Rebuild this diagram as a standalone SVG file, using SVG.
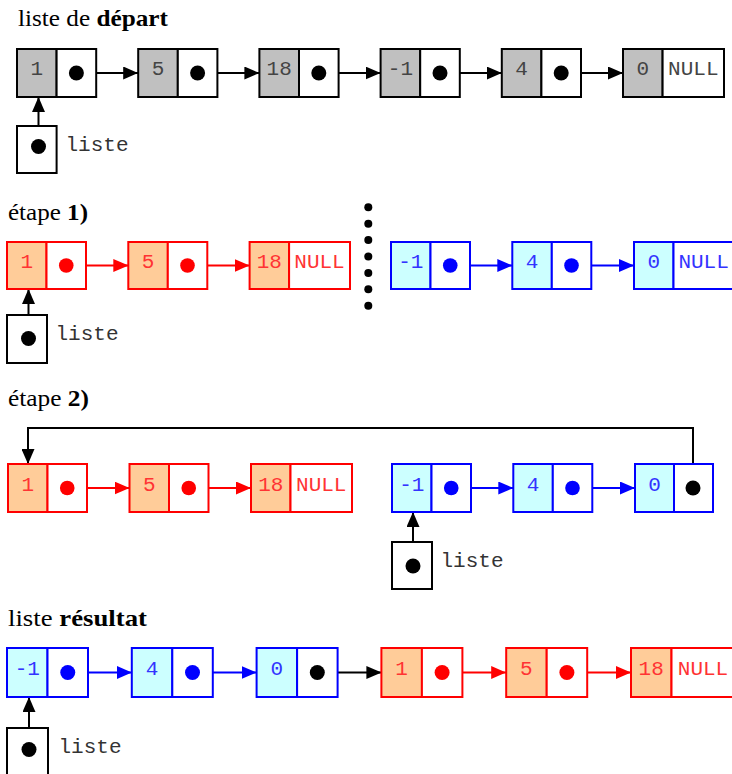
<svg xmlns="http://www.w3.org/2000/svg" width="732" height="774" viewBox="0 0 732 774">
<style>
.title{font-family:"Liberation Serif","Times New Roman",serif;font-size:23px;fill:#000}
.b{font-weight:bold}
.v{font-family:"Liberation Mono","Courier New",monospace;font-size:21px;text-anchor:middle}
.lbl{font-family:"Liberation Mono","Courier New",monospace;font-size:21px;fill:#333}
.gc{fill:#c0c0c0;stroke:#000;stroke-width:2}
.wk{fill:#fff;stroke:#000;stroke-width:2}
.rc{fill:#ffcc99;stroke:#f00;stroke-width:2}
.wr{fill:#fff;stroke:#f00;stroke-width:2}
.bc{fill:#ccffff;stroke:#00f;stroke-width:2}
.wb{fill:#fff;stroke:#00f;stroke-width:2}
.tg{fill:#444}
.tr{fill:#f33}
.tb{fill:#33f}
.dk{fill:#000}
.dr{fill:#f00}
.db{fill:#00f}
.lk{stroke:#000;stroke-width:2;fill:none;marker-end:url(#ak)}
.lr{stroke:#f00;stroke-width:2;fill:none;marker-end:url(#ar)}
.lb{stroke:#00f;stroke-width:2;fill:none;marker-end:url(#ab)}
</style>
<defs>
<marker id="ak" viewBox="0 0 15 13" refX="15" refY="6.5" markerWidth="15" markerHeight="13" markerUnits="userSpaceOnUse" orient="auto"><path d="M0,0 L15,6.5 L0,13 z" fill="#000"/></marker>
<marker id="ar" viewBox="0 0 15 13" refX="15" refY="6.5" markerWidth="15" markerHeight="13" markerUnits="userSpaceOnUse" orient="auto"><path d="M0,0 L15,6.5 L0,13 z" fill="#f00"/></marker>
<marker id="ab" viewBox="0 0 15 13" refX="15" refY="6.5" markerWidth="15" markerHeight="13" markerUnits="userSpaceOnUse" orient="auto"><path d="M0,0 L15,6.5 L0,13 z" fill="#00f"/></marker>
</defs>
<rect width="732" height="774" fill="#fff"/>

<g id="titles">
<text class="title" x="18" y="26" textLength="150" lengthAdjust="spacingAndGlyphs">liste de <tspan class="b">départ</tspan></text>
<text class="title" x="8" y="220" textLength="80" lengthAdjust="spacingAndGlyphs">étape <tspan class="b">1)</tspan></text>
<text class="title" x="8" y="406" textLength="81" lengthAdjust="spacingAndGlyphs">étape <tspan class="b">2)</tspan></text>
<text class="title" x="8" y="626" textLength="139" lengthAdjust="spacingAndGlyphs">liste <tspan class="b">résultat</tspan></text>
</g>

<g id="connectors">
<line class="lk" x1="76.4" y1="73" x2="138.2" y2="73"/>
<line class="lk" x1="197.6" y1="73" x2="259.4" y2="73"/>
<line class="lk" x1="318.8" y1="73" x2="380.6" y2="73"/>
<line class="lk" x1="440" y1="73" x2="501.8" y2="73"/>
<line class="lk" x1="561.2" y1="73" x2="623" y2="73"/>
<line class="lk" x1="38.5" y1="146.5" x2="38.5" y2="97"/>
<line class="lr" x1="66.25" y1="265.5" x2="128.3" y2="265.5"/>
<line class="lr" x1="187.5" y1="265.5" x2="249.6" y2="265.5"/>
<line class="lb" x1="450.25" y1="265.5" x2="512.3" y2="265.5"/>
<line class="lb" x1="571.5" y1="265.5" x2="634" y2="265.5"/>
<line class="lk" x1="28.5" y1="338.5" x2="28.5" y2="289"/>
<line class="lr" x1="67.25" y1="488" x2="129.5" y2="488"/>
<line class="lr" x1="188.75" y1="488" x2="251" y2="488"/>
<line class="lb" x1="451.25" y1="488" x2="513.3" y2="488"/>
<line class="lb" x1="572.5" y1="488" x2="635" y2="488"/>
<path class="lk" d="M693,488 V428 H28 V464"/>
<line class="lk" x1="413" y1="566" x2="413" y2="512"/>
<line class="lb" x1="67.75" y1="672.5" x2="131.8" y2="672.5"/>
<line class="lb" x1="192.5" y1="672.5" x2="256.6" y2="672.5"/>
<line class="lk" x1="317.3" y1="672.5" x2="381.4" y2="672.5"/>
<line class="lr" x1="442.1" y1="672.5" x2="506.2" y2="672.5"/>
<line class="lr" x1="566.9" y1="672.5" x2="631" y2="672.5"/>
<line class="lk" x1="29" y1="749.5" x2="29" y2="697"/>
</g>

<g id="r1n1"><rect class="gc" x="17" y="49" width="39.6" height="48"/><rect class="wk" x="56.6" y="49" width="39.6" height="48"/><text class="v tg" x="36.8" y="75">1</text><circle class="dk" cx="76.4" cy="73" r="7.5"/></g>
<g id="r1n2"><rect class="gc" x="138.2" y="49" width="39.6" height="48"/><rect class="wk" x="177.8" y="49" width="39.6" height="48"/><text class="v tg" x="158" y="75">5</text><circle class="dk" cx="197.6" cy="73" r="7.5"/></g>
<g id="r1n3"><rect class="gc" x="259.4" y="49" width="39.6" height="48"/><rect class="wk" x="299" y="49" width="39.6" height="48"/><text class="v tg" x="279.2" y="75">18</text><circle class="dk" cx="318.8" cy="73" r="7.5"/></g>
<g id="r1n4"><rect class="gc" x="380.6" y="49" width="39.6" height="48"/><rect class="wk" x="420.2" y="49" width="39.6" height="48"/><text class="v tg" x="400.4" y="75">-1</text><circle class="dk" cx="440" cy="73" r="7.5"/></g>
<g id="r1n5"><rect class="gc" x="501.8" y="49" width="39.6" height="48"/><rect class="wk" x="541.4" y="49" width="39.6" height="48"/><text class="v tg" x="521.6" y="75">4</text><circle class="dk" cx="561.2" cy="73" r="7.5"/></g>
<g id="r1n6"><rect class="gc" x="623" y="49" width="39.6" height="48"/><rect class="wk" x="662.6" y="49" width="61.4" height="48"/><text class="v tg" x="642.8" y="75">0</text><text class="v tg" x="693.3" y="75">NULL</text></g>
<g id="r1p"><rect class="wk" x="17" y="126" width="39.6" height="47"/><circle class="dk" cx="38.5" cy="146.5" r="7.5"/><text class="lbl" x="65.5" y="151">liste</text></g>

<g id="r2n1"><rect class="rc" x="7" y="242" width="39.5" height="47"/><rect class="wr" x="46.5" y="242" width="39.5" height="47"/><text class="v tr" x="26.75" y="268">1</text><circle class="dr" cx="66.25" cy="265.5" r="7.3"/></g>
<g id="r2n2"><rect class="rc" x="128.3" y="242" width="39.5" height="47"/><rect class="wr" x="167.8" y="242" width="39.5" height="47"/><text class="v tr" x="148" y="268">5</text><circle class="dr" cx="187.5" cy="265.5" r="7.3"/></g>
<g id="r2n3"><rect class="rc" x="249.6" y="242" width="39.5" height="47"/><rect class="wr" x="289.1" y="242" width="60.9" height="47"/><text class="v tr" x="269.3" y="268">18</text><text class="v tr" x="319.5" y="268">NULL</text></g>
<g id="sep"><circle class="dk" cx="368.3" cy="207.3" r="4"/><circle class="dk" cx="368.3" cy="223.7" r="4"/><circle class="dk" cx="368.3" cy="240.1" r="4"/><circle class="dk" cx="368.3" cy="256.5" r="4"/><circle class="dk" cx="368.3" cy="272.9" r="4"/><circle class="dk" cx="368.3" cy="289.3" r="4"/><circle class="dk" cx="368.3" cy="305.7" r="4"/></g>
<g id="r2n4"><rect class="bc" x="391" y="242" width="39.5" height="47"/><rect class="wb" x="430.5" y="242" width="39.5" height="47"/><text class="v tb" x="410.75" y="268">-1</text><circle class="db" cx="450.25" cy="265.5" r="7.3"/></g>
<g id="r2n5"><rect class="bc" x="512.3" y="242" width="39.5" height="47"/><rect class="wb" x="551.8" y="242" width="39.5" height="47"/><text class="v tb" x="532" y="268">4</text><circle class="db" cx="571.5" cy="265.5" r="7.3"/></g>
<g id="r2n6"><rect class="bc" x="634" y="242" width="39.5" height="47"/><rect class="wb" x="673.5" y="242" width="60.5" height="47"/><text class="v tb" x="653.75" y="268">0</text><text class="v tb" x="703.6" y="268">NULL</text></g>
<g id="r2p"><rect class="wk" x="7" y="315" width="40" height="48"/><circle class="dk" cx="28.5" cy="338.5" r="7.5"/><text class="lbl" x="55.5" y="340">liste</text></g>

<g id="r3n1"><rect class="rc" x="8" y="464" width="39.5" height="48"/><rect class="wr" x="47.5" y="464" width="39.5" height="48"/><text class="v tr" x="27.75" y="491">1</text><circle class="dr" cx="67.25" cy="488" r="7.3"/></g>
<g id="r3n2"><rect class="rc" x="129.5" y="464" width="39.5" height="48"/><rect class="wr" x="169" y="464" width="39.5" height="48"/><text class="v tr" x="149.25" y="491">5</text><circle class="dr" cx="188.75" cy="488" r="7.3"/></g>
<g id="r3n3"><rect class="rc" x="251" y="464" width="39.5" height="48"/><rect class="wr" x="290.5" y="464" width="61.5" height="48"/><text class="v tr" x="270.75" y="491">18</text><text class="v tr" x="321.25" y="491">NULL</text></g>
<g id="r3n4"><rect class="bc" x="392" y="464" width="39.5" height="48"/><rect class="wb" x="431.5" y="464" width="39.5" height="48"/><text class="v tb" x="411.75" y="491">-1</text><circle class="db" cx="451.25" cy="488" r="7.3"/></g>
<g id="r3n5"><rect class="bc" x="513.3" y="464" width="39.5" height="48"/><rect class="wb" x="552.8" y="464" width="39.5" height="48"/><text class="v tb" x="533" y="491">4</text><circle class="db" cx="572.5" cy="488" r="7.3"/></g>
<g id="r3n6"><rect class="bc" x="635" y="464" width="39" height="48"/><rect class="wb" x="674" y="464" width="39" height="48"/><text class="v tb" x="654.5" y="491">0</text><circle class="dk" cx="693" cy="488" r="7.5"/></g>
<g id="r3p"><rect class="wk" x="392" y="542" width="40" height="47"/><circle class="dk" cx="413" cy="566" r="7.5"/><text class="lbl" x="440.5" y="567">liste</text></g>

<g id="r4n1"><rect class="bc" x="7" y="648" width="40.5" height="49"/><rect class="wb" x="47.5" y="648" width="40.5" height="49"/><text class="v tb" x="27.25" y="675">-1</text><circle class="db" cx="67.75" cy="672.5" r="7.5"/></g>
<g id="r4n2"><rect class="bc" x="131.8" y="648" width="40.5" height="49"/><rect class="wb" x="172.3" y="648" width="40.5" height="49"/><text class="v tb" x="152" y="675">4</text><circle class="db" cx="192.5" cy="672.5" r="7.5"/></g>
<g id="r4n3"><rect class="bc" x="256.6" y="648" width="40.5" height="49"/><rect class="wb" x="297.1" y="648" width="40.5" height="49"/><text class="v tb" x="276.8" y="675">0</text><circle class="dk" cx="317.3" cy="672.5" r="7.5"/></g>
<g id="r4n4"><rect class="rc" x="381.4" y="648" width="40.5" height="49"/><rect class="wr" x="421.9" y="648" width="40.5" height="49"/><text class="v tr" x="401.6" y="675">1</text><circle class="dr" cx="442.1" cy="672.5" r="7.5"/></g>
<g id="r4n5"><rect class="rc" x="506.2" y="648" width="40.5" height="49"/><rect class="wr" x="546.7" y="648" width="40.5" height="49"/><text class="v tr" x="526.4" y="675">5</text><circle class="dr" cx="566.9" cy="672.5" r="7.5"/></g>
<g id="r4n6"><rect class="rc" x="631" y="648" width="40.5" height="49"/><rect class="wr" x="671.5" y="648" width="62.5" height="49"/><text class="v tr" x="651.2" y="675">18</text><text class="v tr" x="703" y="675">NULL</text></g>
<g id="r4p"><rect class="wk" x="7" y="728" width="41" height="50"/><circle class="dk" cx="29" cy="749.5" r="7.5"/><text class="lbl" x="58.5" y="753">liste</text></g>
</svg>
